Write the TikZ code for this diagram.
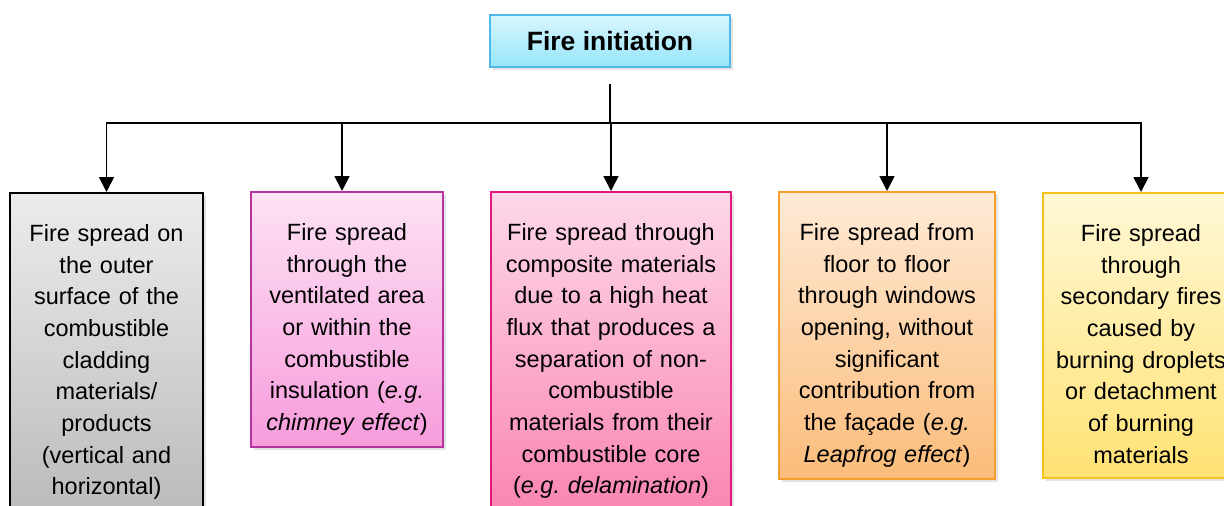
\documentclass[tikz,border=0pt]{standalone}
\usepackage{fontspec}
\setmainfont{Liberation Sans}
\usetikzlibrary{arrows.meta,positioning,shadows}

\definecolor{initline}{RGB}{80,184,230}
\definecolor{inittop}{RGB}{216,246,253}
\definecolor{initbot}{RGB}{150,229,251}
\definecolor{greytop}{RGB}{236,236,236}
\definecolor{greybot}{RGB}{184,184,184}
\definecolor{violline}{RGB}{180,52,160}
\definecolor{violtop}{RGB}{253,226,244}
\definecolor{violbot}{RGB}{247,156,220}
\definecolor{roseline}{RGB}{226,24,126}
\definecolor{rosetop}{RGB}{253,216,232}
\definecolor{rosebot}{RGB}{250,128,176}
\definecolor{orangeline}{RGB}{245,160,46}
\definecolor{orangetop}{RGB}{254,234,214}
\definecolor{orangebot}{RGB}{251,188,122}
\definecolor{yellowline}{RGB}{245,194,26}
\definecolor{yellowtop}{RGB}{255,248,214}
\definecolor{yellowbot}{RGB}{255,226,116}

\tikzset{
  wire/.style={line width=1.6pt},
  boxshadow/.style={drop shadow={shadow xshift=3pt,shadow yshift=-3pt,opacity=0.22}},
  initbox/.style={draw=initline, line width=1.6pt, top color=inittop, bottom color=initbot,
    minimum width=240pt, minimum height=52pt, inner sep=0pt, boxshadow,
    font=\fontsize{26.5pt}{30pt}\selectfont\bfseries},
  spreadbox/.style={draw, line width=1.6pt, anchor=north, align=center,
    inner xsep=0pt, inner ysep=0pt, text height=48.5pt, boxshadow,
    font=\fontsize{23.5pt}{31.7pt}\selectfont}
}

\begin{document}
\begin{tikzpicture}[x=1pt, y=1pt, >={Triangle[length=15pt,width=15pt]}]

  \useasboundingbox (0,0) rectangle (1224,-506);

  \node[initbox] (init) at (610,-41) {Fire initiation};

  % the five ways the fire spreads
  \node[spreadbox, draw=black, top color=greytop, bottom color=greybot,
    text width=193pt, text depth=290pt] (spread1) at (106.5,-192)
    {Fire spread on\\the outer\\surface of the\\combustible\\cladding\\materials/\\products\\(vertical and\\horizontal)};

  \node[spreadbox, draw=violline, top color=violtop, bottom color=violbot,
    text width=192pt, text depth=206.5pt] (spread2) at (347,-191)
    {Fire spread\\through the\\ventilated area\\or within the\\combustible\\insulation (\textit{e.g.}\\\textit{chimney effect})};

  \node[spreadbox, draw=roseline, top color=rosetop, bottom color=rosebot,
    text width=240pt, text depth=290pt] (spread3) at (611,-191)
    {Fire spread through\\composite materials\\due to a high heat\\flux that produces a\\separation of non-\\combustible\\materials from their\\combustible core\\(\textit{e.g.\ delamination})};

  \node[spreadbox, draw=orangeline, top color=orangetop, bottom color=orangebot,
    text width=216pt, text depth=238.5pt] (spread4) at (887,-191)
    {Fire spread from\\floor to floor\\through windows\\opening, without\\significant\\contribution from\\the façade (\textit{e.g.}\\\textit{Leapfrog effect})};

  \node[spreadbox, draw=yellowline, top color=yellowtop, bottom color=yellowbot,
    text width=196pt, text depth=236.5pt] (spread5) at (1141,-192)
    {Fire spread\\through\\secondary fires\\caused by\\burning droplets\\or detachment\\of burning\\materials};

  % branching connectors
  \coordinate (bus) at (0,-123);
  \coordinate (tip2) at ([xshift=-5pt]spread2.north);

  \draw[wire, shorten <=16pt] (init.south) -- (init.south |- bus);
  \draw[wire, <->] (spread1.north) -- (spread1.north |- bus)
    -- (spread5.north |- bus) -- (spread5.north);
  \draw[wire, ->] (tip2 |- bus) -- (tip2);
  \foreach \n in {3,4}
    \draw[wire, ->] (spread\n.north |- bus) -- (spread\n.north);

\end{tikzpicture}
\end{document}
